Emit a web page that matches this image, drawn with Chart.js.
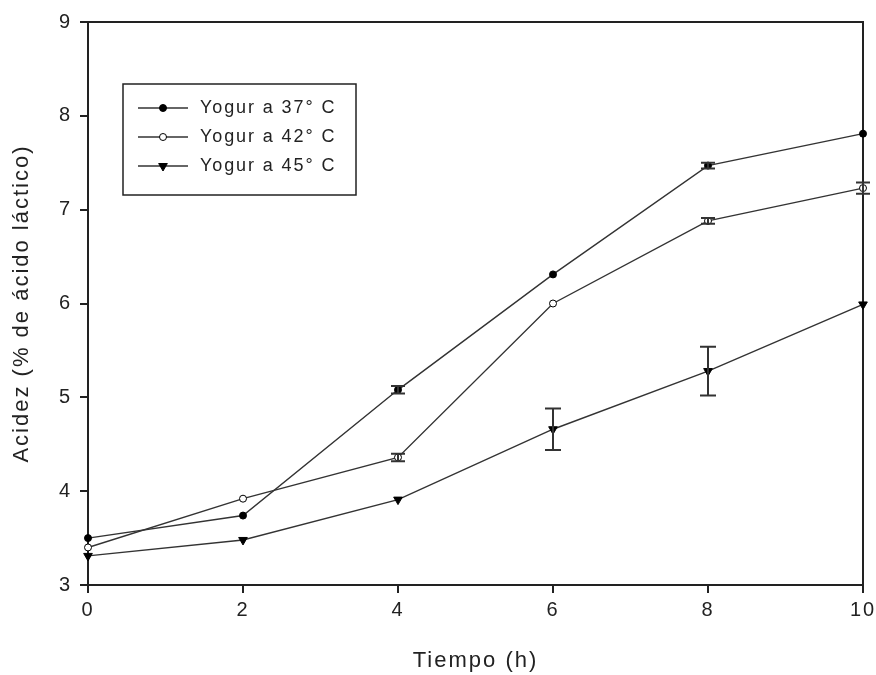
<!DOCTYPE html>
<html>
<head>
<meta charset="utf-8">
<script src="https://cdn.jsdelivr.net/npm/chart.js@4.4.1/dist/chart.umd.min.js"></script>
<style>
  html,body{margin:0;padding:0;background:#fff;}
  #wrap{width:876px;height:675px;}
</style>
</head>
<body>
<div id="wrap"><canvas id="c" width="876" height="675"></canvas></div>
<script>
// ---- DATOS ----
const tiempos = [0, 2, 4, 6, 8, 10];
const yogur37 = [3.50, 3.74, 5.08, 6.31, 7.47, 7.81];
const yogur42 = [3.40, 3.92, 4.36, 6.00, 6.88, 7.23];
const yogur45 = [3.31, 3.48, 3.91, 4.66, 5.28, 5.99];
const err37 = [0, 0, 0.04, 0, 0.03, 0];
const err42 = [0, 0, 0.04, 0, 0.03, 0.06];
const err45 = [0, 0, 0, 0.22, 0.26, 0];
const nombres = ['Yogur a 37° C', 'Yogur a 42° C', 'Yogur a 45° C'];
const xTicks = [0, 2, 4, 6, 8, 10];
const yTicks = [3, 4, 5, 6, 7, 8, 9];

const LINE = '#333';
const FONT = '"Liberation Sans", Arial, sans-serif';

function pts(vals){ return tiempos.map((t,i)=>({x:t, y:vals[i]})); }

function serie(label, vals, errs, style, fill, rot){
  return {
    label, data: pts(vals), errs,
    borderColor: LINE, borderWidth: 1.4,
    pointStyle: style, pointRotation: rot || 0,
    pointRadius: style==='triangle' ? 5 : 3.5,
    pointBackgroundColor: fill, pointBorderColor: '#000', pointBorderWidth: 1,
    tension: 0, fill: false, clip: false
  };
}

// ---- PLUGIN: marco, barras de error y leyenda ----
const extras = {
  id: 'extras',
  beforeInit(chart){ chart.ctx.letterSpacing = '2px'; },
  beforeDraw(chart){ chart.ctx.letterSpacing = '2px'; },
  beforeDatasetsDraw(chart){
    const {ctx, chartArea:a} = chart;
    ctx.save();
    ctx.strokeStyle = '#222';
    ctx.lineWidth = 2;
    ctx.strokeRect(a.left, a.top, a.right - a.left, a.bottom - a.top);
    ctx.restore();
  },
  afterDatasetsDraw(chart){
    const {ctx, scales:{x, y}} = chart;
    ctx.save();
    ctx.strokeStyle = '#333';
    ctx.lineWidth = 2;
    chart.data.datasets.forEach(ds=>{
      ds.data.forEach((p,i)=>{
        const e = ds.errs[i];
        if(!e) return;
        const px = x.getPixelForValue(p.x);
        const y1 = y.getPixelForValue(p.y + e);
        const y2 = y.getPixelForValue(p.y - e);
        const w = e < 0.1 ? 7 : 8;
        ctx.beginPath();
        ctx.moveTo(px, y1); ctx.lineTo(px, y2);
        ctx.moveTo(px-w, y1); ctx.lineTo(px+w, y1);
        ctx.moveTo(px-w, y2); ctx.lineTo(px+w, y2);
        ctx.stroke();
      });
    });

    // leyenda dentro del área
    const bx = 123, by = 84, bw = 233, bh = 111;
    ctx.lineWidth = 1.5;
    ctx.strokeStyle = '#222';
    ctx.strokeRect(bx, by, bw, bh);
    ctx.font = '18px ' + FONT;
    ctx.letterSpacing = '1.9px';
    ctx.textBaseline = 'middle';
    chart.data.datasets.forEach((ds, i)=>{
      const ly = 108 + i*29;
      ctx.strokeStyle = LINE;
      ctx.lineWidth = 1.4;
      ctx.beginPath(); ctx.moveTo(138, ly); ctx.lineTo(188, ly); ctx.stroke();
      ctx.fillStyle = ds.pointBackgroundColor;
      ctx.strokeStyle = '#000';
      ctx.lineWidth = 1;
      Chart.helpers.drawPoint(ctx, {
        pointStyle: ds.pointStyle, rotation: ds.pointRotation,
        radius: ds.pointRadius, borderWidth: 1
      }, 163, ly);
      ctx.fillStyle = '#222';
      ctx.fillText(ds.label, 200, ly);
    });
    ctx.restore();
  }
};

new Chart(document.getElementById('c'), {
  type: 'line',
  data: {
    datasets: [
      serie(nombres[0], yogur37, err37, 'circle', '#000'),
      serie(nombres[1], yogur42, err42, 'circle', '#fff'),
      serie(nombres[2], yogur45, err45, 'triangle', '#000', 180)
    ]
  },
  options: {
    responsive: false,
    animation: false,
    layout: {padding: {top: 22, right: 13, left: 0, bottom: 0}},
    plugins: {legend: {display: false}, tooltip: {enabled: false}},
    scales: {
      x: {
        type: 'linear', min: 0, max: 10,
        afterBuildTicks: s => { s.ticks = xTicks.map(v=>({value:v})); },
        afterFit: s => { s.height = 90; s.paddingLeft = 0; s.paddingRight = 0; },
        grid: {drawOnChartArea: false, tickLength: 8, color: '#222', lineWidth: 2},
        border: {display: true, color: '#222', width: 2},
        ticks: {color: '#222', font: {family: FONT, size: 20}, padding: 5, maxRotation: 0},
        title: {display: true, text: 'Tiempo (h)', color: '#222',
                font: {family: FONT, size: 22}, padding: {top: 0, bottom: 1}}
      },
      y: {
        type: 'linear', min: 3, max: 9,
        afterBuildTicks: s => { s.ticks = yTicks.map(v=>({value:v})); },
        afterFit: s => { s.width = 88; s.paddingTop = 0; s.paddingBottom = 0; },
        grid: {drawOnChartArea: false, tickLength: 8, color: '#222', lineWidth: 2},
        border: {display: true, color: '#222', width: 2},
        ticks: {color: '#222', font: {family: FONT, size: 20}, padding: 8},
        title: {display: true, text: 'Acidez (% de ácido láctico)', color: '#222',
                font: {family: FONT, size: 22}, padding: {top: 9, bottom: 0}}
      }
    }
  },
  plugins: [extras]
});
</script>
</body>
</html>
